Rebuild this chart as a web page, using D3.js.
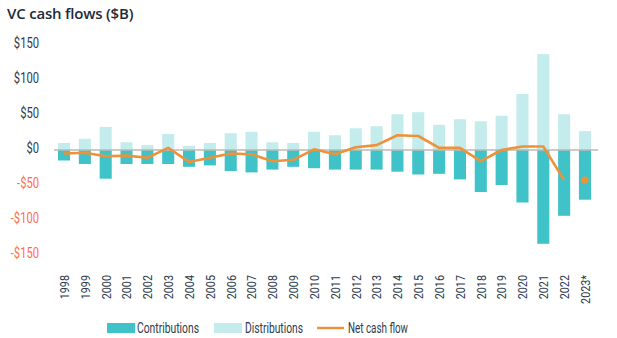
<!DOCTYPE html>
<html>
<head>
<meta charset="utf-8">
<script src="https://cdn.jsdelivr.net/npm/d3@7"></script>
<style>
  html, body { margin: 0; padding: 0; background: #fff; }
  svg { display: block; }
  text { font-family: "Roboto", "Noto Sans", sans-serif; }
</style>
</head>
<body>
<svg id="chart" width="617" height="338"></svg>
<script>
const years = ["1998","1999","2000","2001","2002","2003","2004","2005","2006","2007","2008","2009","2010","2011","2012","2013","2014","2015","2016","2017","2018","2019","2020","2021","2022","2023*"];
const distributions = [10,16,33,11,7,23,6,10,24,26,11,10,26,21,31,34,51,54,36,44,41,49,80,137,51,27];
const contributions = [15,20,41,20,20,20,24,22,30,32,28,24,26,28,28,28,31,35,34,42,60,50,75,134,94,71];
const netCashFlow = [-5,-4,-9,-8,-11,3,-17,-11,-5,-6,-16,-14,1,-6,4,7,21,20,3,3,-16,0,5,5,-43,-43];
const yTicks = [150,100,50,0,-50,-100,-150];
const legendLabels = ["Contributions","Distributions","Net cash flow"];

const colContrib = "#40C3C8";
const colDistrib = "#C5ECEC";
const colNet = "#EE923A";

const svg = d3.select("#chart");

const x = d3.scaleBand().domain(years).range([53.6, 595.4]).paddingInner(0.42).paddingOuter(0.21);
const y = d3.scaleLinear().domain([-150, 150]).range([255, 45]);

// title
svg.append("text").attr("x", 7).attr("y", 19).attr("font-size", 15).attr("font-weight", 600)
  .attr("fill", "#1e2a3a").style("font-family", "'Open Sans', 'Noto Sans', sans-serif").style("letter-spacing", "-0.2px")
  .text("VC cash flows ($B)");

// y axis labels
const yAxis = d3.axisLeft(y).tickValues(yTicks).tickSize(0).tickPadding(0)
  .tickFormat(d => (d < 0 ? "-$" + Math.abs(d) : "$" + d));
const gy = svg.append("g").attr("transform", "translate(39,-2)").call(yAxis);
gy.select(".domain").remove();
gy.selectAll("text").attr("font-size", 14).attr("fill", d => d < 0 ? "#FF6E4E" : "#2d3a4c")
  .attr("transform", "scale(0.8,1)");

// bars
svg.append("g").selectAll("rect.d").data(years).join("rect")
  .attr("x", d => x(d)).attr("width", x.bandwidth())
  .attr("y", (d, i) => y(distributions[i])).attr("height", (d, i) => y(0) - y(distributions[i]))
  .attr("fill", colDistrib);
svg.append("g").selectAll("rect.c").data(years).join("rect")
  .attr("x", d => x(d)).attr("width", x.bandwidth())
  .attr("y", y(0)).attr("height", (d, i) => y(-contributions[i]) - y(0))
  .attr("fill", colContrib);

// zero line
svg.append("line").attr("x1", 54).attr("x2", 598).attr("y1", y(0)).attr("y2", y(0))
  .attr("stroke", "#BDBAB2").attr("stroke-width", 1.6);

// net line (through 2022), 2023 as dot
const cx = d => x(d) + x.bandwidth() / 2;
const lineData = years.slice(0, 25).map((d, i) => [cx(d), y(netCashFlow[i])]);
svg.append("path").datum(lineData).attr("d", d3.line())
  .attr("fill", "none").attr("stroke", colNet).attr("stroke-width", 2.6).attr("stroke-linejoin", "round");
svg.append("circle").attr("cx", cx(years[25])).attr("cy", y(netCashFlow[25])).attr("r", 3.6).attr("fill", colNet);

// x axis labels
const xAxis = d3.axisBottom(x).tickSize(0).tickPadding(0);
const gx = svg.append("g").attr("transform", "translate(0,275)").call(xAxis);
gx.select(".domain").remove();
gx.selectAll("text").attr("transform", "rotate(-90) scale(0.8,1)").attr("text-anchor", "end")
  .attr("x", 0).attr("y", 0).attr("dx", 0).attr("dy", "0.36em")
  .attr("font-size", 13.5).attr("fill", "#2d3a4c");

// legend
const lg = svg.append("g");
const lgText = (xp, t, len) => lg.append("text").attr("x", xp).attr("y", 332.5).attr("font-size", 14)
  .attr("fill", "#2d3a4c").attr("textLength", len).attr("lengthAdjust", "spacingAndGlyphs").text(t);
lg.append("rect").attr("x", 107).attr("y", 323).attr("width", 28).attr("height", 10).attr("fill", colContrib);
lgText(137, legendLabels[0], 62);
lg.append("rect").attr("x", 214).attr("y", 323).attr("width", 28).attr("height", 10).attr("fill", colDistrib);
lgText(245, legendLabels[1], 58);
lg.append("line").attr("x1", 317).attr("x2", 344).attr("y1", 328).attr("y2", 328).attr("stroke", colNet).attr("stroke-width", 2.4);
lgText(348, legendLabels[2], 60);
</script>
</body>
</html>
